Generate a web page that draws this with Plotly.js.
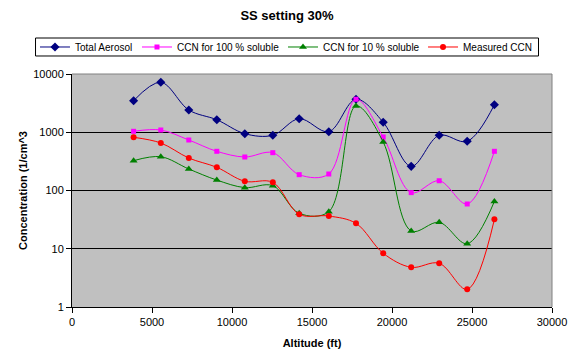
<!DOCTYPE html>
<html>
<head>
<meta charset="utf-8">
<script src="https://cdn.plot.ly/plotly-3.0.1.min.js"></script>
<style>html,body{margin:0;padding:0;background:#fff;}#chart{width:574px;height:354px;}</style>
</head>
<body>
<div id="chart"></div>
<script>
var altitude = [3850, 5550, 7300, 9050, 10800, 12550, 14200, 16050, 17750, 19450, 21200, 22950, 24700, 26400];
var totalAerosol = [3480, 7200, 2410, 1640, 945, 887, 1710, 1022, 3680, 1482, 260, 887, 699, 2972];
var ccn100 = [1038, 1093, 736, 471, 376, 446, 187, 192, 3680, 829, 92, 147, 58.7, 471];
var ccn10 = [325, 380, 234, 151, 112, 121, 40.6, 43.3, 2830, 680, 20.2, 28.4, 12.2, 65];
var measuredCCN = [819, 654, 361, 250, 144, 138, 39, 36.5, 27.3, 8.36, 4.8, 5.63, 2.01, 32];
var seriesNames = ['Total Aerosol', 'CCN for 100 % soluble', 'CCN for 10 % soluble', 'Measured CCN'];
var yTickVals = [1, 10, 100, 1000, 10000];
var yTickText = ['1', '10', '100', '1000', '10000'];
var xTickVals = [0, 5000, 10000, 15000, 20000, 25000, 30000];

var FONT = 'Arial, "Liberation Sans", sans-serif';

function tr(y, name, color, symbol, size, lg) {
  return {
    x: altitude, y: y, name: name, type: 'scatter', mode: 'lines+markers',
    line: {color: color, width: 1, shape: 'spline', smoothing: 1},
    marker: {color: color, symbol: symbol, size: size, line: {width: 0}},
    legend: lg,
    hoverinfo: 'skip'
  };
}

var data = [
  tr(totalAerosol, seriesNames[0], '#000080', 'diamond', 7, 'legend'),
  tr(ccn100, seriesNames[1], '#FF00FF', 'square', 5, 'legend2'),
  tr(ccn10, seriesNames[2], '#008000', 'triangle-up', 7, 'legend3'),
  tr(measuredCCN, seriesNames[3], '#FF0000', 'circle', 6, 'legend4')
];

function leg(x) {
  return {
    orientation: 'h', xref: 'paper', x: x, xanchor: 'left',
    yref: 'paper', y: 1.1159, yanchor: 'middle',
    bgcolor: 'rgba(0,0,0,0)', borderwidth: 0,
    font: {family: FONT, size: 10, color: '#000'}, itemwidth: 30
  };
}

var layout = {
  width: 574, height: 354,
  margin: {l: 72, r: 22, t: 74, b: 47, pad: 0},
  paper_bgcolor: '#FFFFFF',
  plot_bgcolor: '#C0C0C0',
  font: {family: FONT, size: 11, color: '#000'},
  title: {text: '<b>SS setting 30%</b>', font: {family: FONT, size: 13, color: '#000'}, x: 0.5, xanchor: 'center', y: 0.955, yanchor: 'middle'},
  showlegend: true,
  legend: leg(-0.0771),
  legend2: leg(0.1354),
  legend3: leg(0.4396),
  legend4: leg(0.7313),
  xaxis: {
    range: [0, 30000], tickvals: xTickVals, ticktext: xTickVals.map(String),
    showgrid: false, zeroline: false, showline: true, linecolor: '#000', linewidth: 1,
    ticks: 'outside', ticklen: 5, tickcolor: '#000', tickwidth: 1,
    tickfont: {family: FONT, size: 11, color: '#000'},
    title: {text: '<b>Altitude (ft)</b>', font: {family: FONT, size: 11, color: '#000'}, standoff: 12},
    fixedrange: true
  },
  yaxis: {
    type: 'log', range: [0, 4], tickvals: yTickVals, ticktext: yTickText,
    showgrid: true, gridcolor: '#000', gridwidth: 1, zeroline: false,
    showline: true, linecolor: '#000', linewidth: 1,
    ticks: 'outside', ticklen: 5, tickcolor: '#000', tickwidth: 1,
    tickfont: {family: FONT, size: 11, color: '#000'},
    title: {text: '<b>Concentration (1/cm^3</b>', font: {family: FONT, size: 11, color: '#000'}, standoff: 3},
    fixedrange: true
  },
  shapes: [
    {type: 'line', xref: 'paper', yref: 'paper', x0: 0, x1: 1, y0: 1, y1: 1, line: {color: '#808080', width: 1}, layer: 'above'},
    {type: 'line', xref: 'paper', yref: 'paper', x0: 1, x1: 1, y0: 0, y1: 1, line: {color: '#808080', width: 1}, layer: 'above'},
    {type: 'rect', xref: 'paper', yref: 'paper', x0: -0.0760, x1: 0.9719, y0: 1.0773, y1: 1.1545, fillcolor: '#FFFFFF', line: {color: '#000', width: 1}, layer: 'above'}
  ]
};

Plotly.newPlot('chart', data, layout, {displayModeBar: false, staticPlot: true});
</script>
</body>
</html>
